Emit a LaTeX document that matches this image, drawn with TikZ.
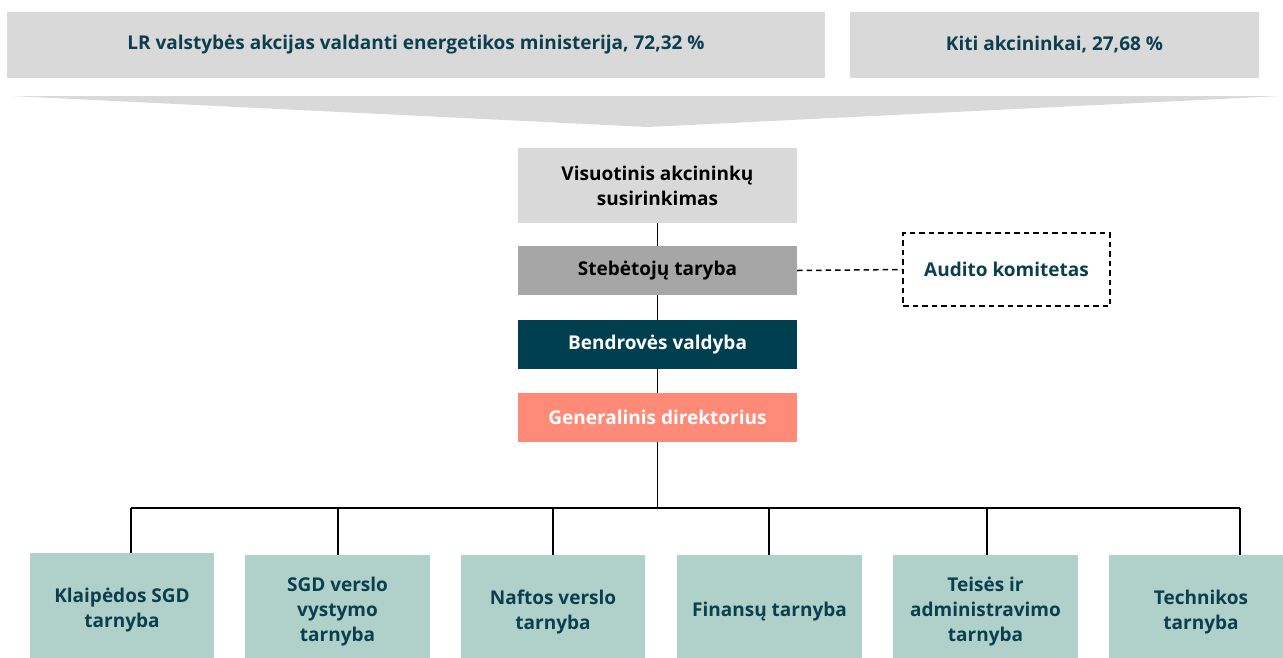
\documentclass[tikz,border=0pt]{standalone}
\usepackage{fontspec}
\setmainfont{Open Sans}
\definecolor{tealtxt}{HTML}{0B3F4F}
\definecolor{lgray}{HTML}{D9D9D9}
\definecolor{mgray}{HTML}{A6A6A6}
\definecolor{dteal}{HTML}{003F4F}
\definecolor{salmon}{HTML}{FF8A77}
\definecolor{lteal}{HTML}{B0D0CA}
\begin{document}
\begin{tikzpicture}[x=1pt,y=-1pt,
  box/.style={rectangle,inner sep=0pt,align=center,
    font=\fontsize{19}{25}\selectfont\bfseries},
  topbox/.style={box,fill=lgray,text=tealtxt,minimum height=66pt},
  midbox/.style={box,minimum width=279pt,minimum height=49pt},
  unitbox/.style={box,fill=lteal,text=tealtxt,minimum width=184.5pt,minimum height=114pt},
  conn/.style={draw=black,line width=1.5pt},
  dconn/.style={draw=black,line width=1.5pt,dash pattern=on 5.5pt off 4pt}]
\useasboundingbox (0,0) rectangle (1283,657);
\fill[white] (0,0) rectangle (1283,657);
% top shareholders
\node[topbox,minimum width=818pt] (lr) at (416,45) {LR valstybės akcijas valdanti energetikos ministerija, 72,32 \%};
\node[topbox,minimum width=409pt] (kiti) at (1054.5,45) {Kiti akcininkai, 27,68 \%};
% chevron
\fill[lgray] (12,96) -- (1281,96) -- (648,127) -- cycle;
% governance chain
\node[midbox,fill=lgray,text=black,minimum height=75pt] (vis) at (657.5,185.5) {Visuotinis akcininkų\\susirinkimas};
\node[midbox,fill=mgray,text=black] (steb) at (657.5,270.5) {Stebėtojų taryba};
\node[midbox,fill=dteal,text=white] (bend) at (657.5,344.5) {Bendrovės valdyba};
\node[midbox,fill=salmon,text=white] (gen) at (657.5,417.5) {Generalinis direktorius};
\node[box,text=tealtxt,draw=black,line width=1.5pt,dash pattern=on 5.5pt off 4pt,
  minimum width=207pt,minimum height=73pt] (aud) at (1006.5,269.5) {Audito komitetas};
\draw[conn] (vis.south) -- (steb.north);
\draw[conn] (steb.south) -- (bend.north);
\draw[conn] (bend.south) -- (gen.north);
\draw[dconn] (steb.east) -- (aud.west);
% units
\node[unitbox] (u1) at (122,610) {Klaipėdos SGD\\tarnyba};
\node[unitbox] (u2) at (337.5,612) {SGD verslo\\vystymo\\tarnyba};
\node[unitbox] (u3) at (553,612) {Naftos verslo\\tarnyba};
\node[unitbox] (u4) at (769.5,612) {Finansų tarnyba};
\node[unitbox] (u5) at (985.5,612) {Teisės ir\\administravimo\\tarnyba};
\node[unitbox] (u6) at (1201,612) {Technikos\\tarnyba};
% bus
\coordinate (c1) at (131,508);
\coordinate (c2) at (338,508);
\coordinate (c3) at (553,508);
\coordinate (c4) at (769,508);
\coordinate (c5) at (987,508);
\coordinate (c6) at (1240,508);
\draw[conn] (gen.south) -- (gen.south |- c1);
\draw[conn] (c1) -- (c6);
\draw[conn] (c1) -- (c1 |- u1.north);
\draw[conn] (c2) -- (c2 |- u2.north);
\draw[conn] (c3) -- (c3 |- u3.north);
\draw[conn] (c4) -- (c4 |- u4.north);
\draw[conn] (c5) -- (c5 |- u5.north);
\draw[conn] (c6) -- (c6 |- u6.north);
\end{tikzpicture}
\end{document}
